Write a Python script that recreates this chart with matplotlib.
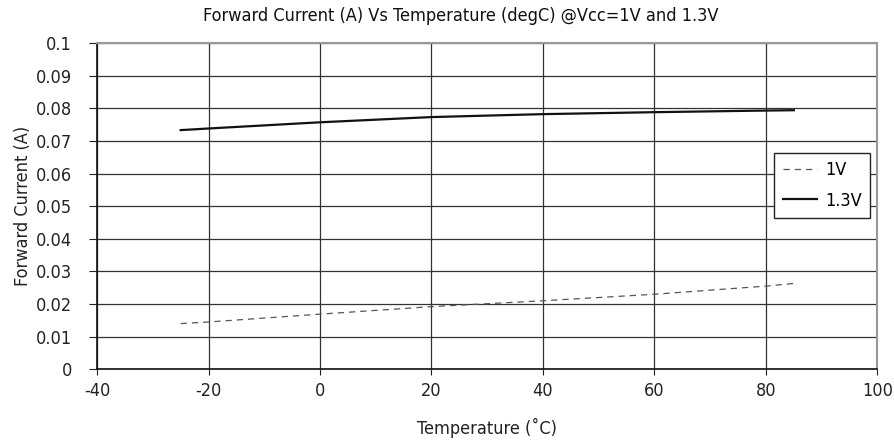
import matplotlib
matplotlib.use("Agg")
import matplotlib.pyplot as plt

plt.rcParams['font.family'] = ['DejaVu Sans']
plt.rcParams['font.stretch'] = 'condensed'
plt.rcParams['axes.unicode_minus'] = False

temps = [-25, -20, 0, 20, 40, 60, 80, 85]
i_1v = [0.0140, 0.0145, 0.0169, 0.0192, 0.0210, 0.0230, 0.0255, 0.0263]
i_13v = [0.0733, 0.0738, 0.0757, 0.0773, 0.0782, 0.0788, 0.0793, 0.0794]
xticks = [-40, -20, 0, 20, 40, 60, 80, 100]
yticks = [0, 0.01, 0.02, 0.03, 0.04, 0.05, 0.06, 0.07, 0.08, 0.09, 0.1]
ytick_labels = ["0", "0.01", "0.02", "0.03", "0.04", "0.05", "0.06", "0.07", "0.08", "0.09", "0.1"]

fig = plt.figure(figsize=(8.95, 4.48), dpi=100)
ax = fig.add_axes([0.1084, 0.1757, 0.8720, 0.7283])

ax.plot(temps, i_1v, color="#555555", lw=0.9, ls=(0, (5, 4)), label="1V")
ax.plot(temps, i_13v, color="#111111", lw=1.6, label="1.3V")

ax.set_xlim(-40, 100)
ax.set_ylim(0, 0.1)
ax.set_xticks(xticks)
ax.set_xticklabels([str(t) for t in xticks])
ax.set_yticks(yticks)
ax.set_yticklabels(ytick_labels)
ax.grid(True, color="#333333", lw=0.9)
ax.set_axisbelow(True)
ax.tick_params(axis="both", labelsize=13, color="#222222", labelcolor="#222222", direction="out")
ax.tick_params(axis="y", length=6, pad=12)
ax.tick_params(axis="x", length=4, pad=5)
for s in ["left", "bottom"]:
    ax.spines[s].set_color("#111111")
    ax.spines[s].set_linewidth(1.2)
for s in ["top", "right"]:
    ax.spines[s].set_color("#999999")
    ax.spines[s].set_linewidth(1.5)

fig.text(461 / 895, 1 - 16 / 448, "Forward Current (A) Vs Temperature (degC) @Vcc=1V and 1.3V",
         fontsize=13, ha="center", va="center", color="#111111")
ax.set_xlabel("Temperature (˚C)", fontsize=13, labelpad=13, color="#222222")
ax.set_ylabel("Forward Current (A)", fontsize=13, labelpad=3, color="#222222")

leg = ax.legend(loc="upper left", bbox_to_anchor=(0.868, 0.663), fontsize=13, frameon=True,
                fancybox=False, edgecolor="#222222", framealpha=1, handlelength=1.9,
                borderpad=0.45, labelspacing=0.7, handletextpad=0.45, borderaxespad=0)
leg.get_frame().set_linewidth(1.0)

fig.savefig("out.png", dpi=100)
